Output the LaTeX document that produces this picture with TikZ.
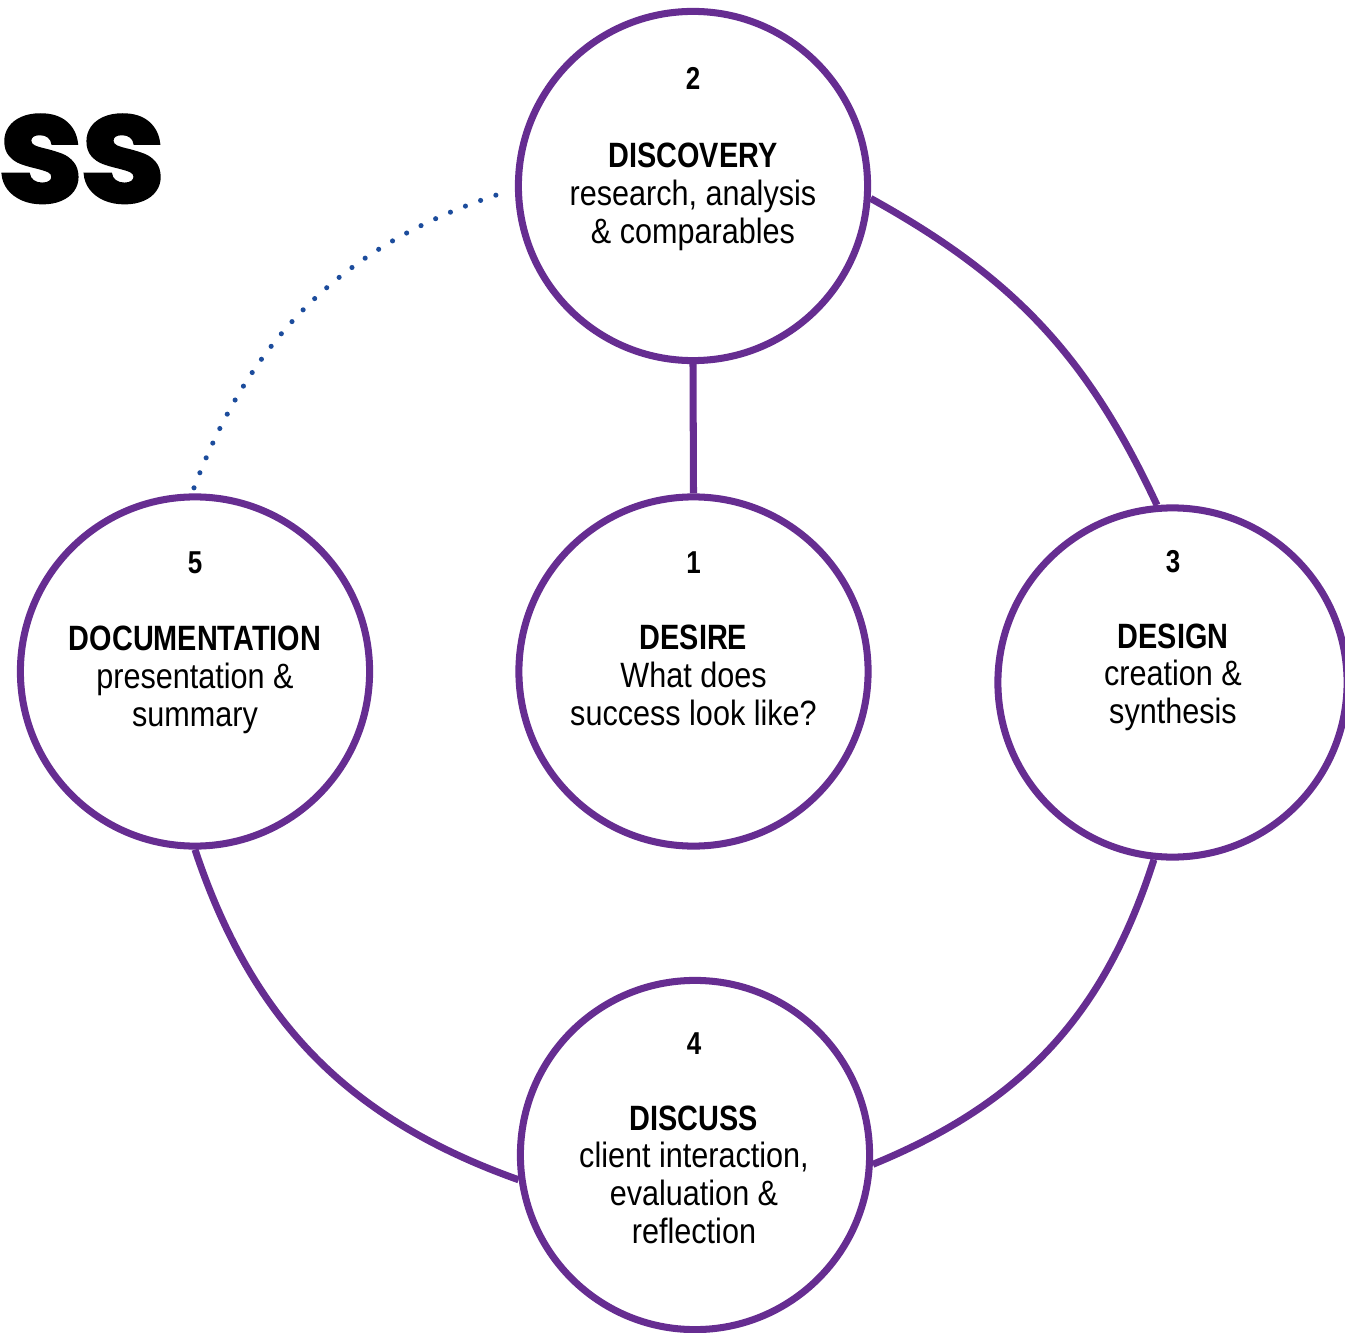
\documentclass[tikz,border=0pt]{standalone}
\usepackage{fontspec}
\setmainfont{Liberation Sans}[FakeStretch=0.87,BoldFeatures={FakeStretch=0.82}]
\newfontfamily\bigfont{Poppins}[BoldFeatures={FakeBold=1.5}]
\definecolor{purp}{RGB}{102,45,145}
\definecolor{dotblue}{RGB}{28,76,156}
\newcommand\stagetext[1]{\begin{tabular}[t]{@{}c@{}}#1\end{tabular}}
\tikzset{
  stage/.style={circle, draw=purp, line width=2pt, fill=white, minimum size=3.49cm, inner sep=0pt},
  num/.style={font=\fontsize{9}{10}\selectfont\bfseries, inner sep=0pt, anchor=base},
  body/.style={font=\fontsize{10}{10.8}\selectfont, inner sep=0pt, anchor=base},
  link/.style={draw=purp, line width=2pt},
  dots/.style={draw=dotblue, line width=1.45pt, line cap=round, dash pattern=on 0pt off 4.6pt}
}
\begin{document}
\begin{tikzpicture}[x=0.01cm,y=0.01cm]
\useasboundingbox (0,0) rectangle (1345,1332);
% title fragment
\node[anchor=base west, inner sep=0pt, font=\bigfont\bfseries\fontsize{44}{50}\selectfont] (ttl) at (-3,1130) {s\kern-1.2pt s};
% stages
\node[stage] (c1) at (693.5,660.5) {};
\node[stage] (c2) at (693,1146) {};
\node[stage] (c3) at (1172.5,649.5) {};
\node[stage] (c4) at (695,177) {};
\node[stage] (c5) at (195,660.5) {};
% connectors
\draw[link] (c2.south) -- (c1.north);
\draw[link] (c2.-4) to[bend left=18] (c3.95);
\draw[link] (c3.264) to[bend left=25] (c4.-3);
\draw[link] (c4.188) to[bend left=26] (c5.270);
\draw[dots, shorten <=1.7pt, shorten >=2pt] (c5.91) to[bend left=26] (c2.181);
% texts
\node[num] (n1) at (693.5,759) {1};
\node[body] (t1) at (693.5,682.5) {\stagetext{\textbf{DESIRE}\\What does\\success look like?}};
\node[num] (n2) at (693,1242) {2};
\node[body] (t2) at (693,1164) {\stagetext{\textbf{DISCOVERY}\\research, analysis\\\& comparables}};
\node[num] (n3) at (1173,760) {3};
\node[body] (t3) at (1173,684) {\stagetext{\textbf{DESIGN}\\creation \&\\synthesis}};
\node[num] (n4) at (694,278) {4};
\node[body] (t4) at (694,202) {\stagetext{\textbf{DISCUSS}\\client interaction,\\evaluation \&\\reflection}};
\node[num] (n5) at (195,759) {5};
\node[body] (t5) at (195,681.5) {\stagetext{\textbf{DOCUMENTATION}\\presentation \&\\summary}};
\end{tikzpicture}
\end{document}
